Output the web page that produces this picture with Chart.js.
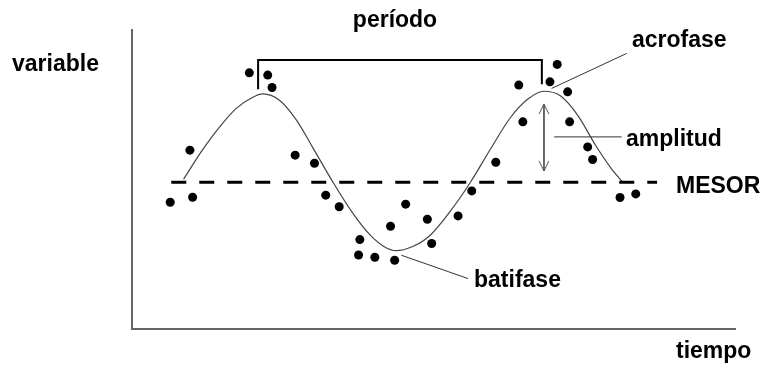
<!DOCTYPE html>
<html>
<head>
<meta charset="utf-8">
<script src="https://cdn.jsdelivr.net/npm/chart.js@4/dist/chart.umd.min.js"></script>
<style>
  html, body { margin: 0; padding: 0; background: #fff; }
  #wrap { width: 763px; height: 367px; }
</style>
</head>
<body>
<div id="wrap"><canvas id="cosinor"></canvas></div>
<script>
// observed points (tiempo in h, variable in arbitrary units)
const dotTimes = [-1.89, -0.21, 0.02, 4.86, 6.43, 6.80, 8.77, 10.42, 11.38, 12.53,
  14.29, 14.18, 15.57, 17.26, 16.91, 18.20, 20.05, 20.42, 22.67, 23.84, 25.89,
  27.85, 28.20, 30.51, 31.13, 32.02, 32.19, 33.73, 34.15, 36.49, 37.83];
const dotValues = [47.78, 53.56, 48.33, 62.14, 61.89, 60.52, 53.0, 52.11, 48.56, 47.28,
  43.63, 41.92, 41.67, 41.33, 45.11, 47.56, 45.89, 43.19, 46.26, 49.03, 52.22,
  60.78, 56.70, 61.14, 63.08, 60.03, 56.70, 53.92, 52.52, 48.30, 48.70];

// fitted curve
const curveTimes = [-0.75, 0.85, 2.3, 3.75, 5.12, 6.0, 7.43, 8.88, 10.25, 12.0, 13.67,
  15.12, 16.3, 17.4, 18.7, 20.2, 21.96, 23.73, 25.4, 27.1, 28.6, 30.0, 31.4, 32.9,
  34.4, 35.7, 36.7];
const curveValues = [50.33, 53.56, 56.1, 58.2, 59.4, 59.8, 59.1, 56.9, 53.9, 50.0, 46.6,
  44.2, 42.9, 42.4, 42.8, 44.0, 46.7, 50.0, 53.6, 57.1, 59.2, 60.1, 59.6, 57.4,
  54.1, 51.6, 50.03];

const mesor = 50;
const mesorTimes = [-1.8, 39.65];

const periodTimes = [5.61, 5.61, 29.82, 29.82];
const periodValues = [60.33, 63.56, 63.56, 60.89];

const amplitudeTimes = [30.0, 30.0];
const amplitudeValues = [58.67, 51.26];

const acrofaseLeader = { t: [30.65, 37.06], v: [60.41, 64.3] };
const amplitudLeader = { t: [30.87, 36.63], v: [55.03, 55.03] };
const batifaseLeader = { t: [17.83, 23.52], v: [41.89, 39.3] };

const xRange = [-5.15, 46.3];
const yRange = [33.7, 66.9];

const pts = (ts, vs) => ts.map((t, i) => ({ x: t, y: vs[i] }));

function lineSet(data, opts) {
  return Object.assign({
    data, showLine: true, pointRadius: 0, borderColor: '#333', borderWidth: 1,
    fill: false, tension: 0
  }, opts || {});
}

// arrow heads for the amplitude arrow (open V)
const headDx = 0.42, headDy = 1.1;
const topHead = [
  { x: amplitudeTimes[0] - headDx, y: amplitudeValues[0] - headDy },
  { x: amplitudeTimes[0], y: amplitudeValues[0] },
  { x: amplitudeTimes[0] + headDx, y: amplitudeValues[0] - headDy }
];
const botHead = [
  { x: amplitudeTimes[1] - headDx, y: amplitudeValues[1] + headDy },
  { x: amplitudeTimes[1], y: amplitudeValues[1] },
  { x: amplitudeTimes[1] + headDx, y: amplitudeValues[1] + headDy }
];

const labels = {
  id: 'labels',
  afterDraw(chart) {
    const ctx = chart.ctx;
    ctx.save();
    ctx.fillStyle = '#000';
    ctx.font = 'bold 23px "Liberation Sans", Arial, sans-serif';
    ctx.textBaseline = 'alphabetic';
    ctx.textAlign = 'center';
    ctx.fillText('período', 395, 27);
    ctx.textAlign = 'left';
    ctx.fillText('variable', 12, 71);
    ctx.fillText('acrofase', 632, 47);
    ctx.fillText('amplitud', 626, 146);
    ctx.fillText('MESOR', 676, 193);
    ctx.fillText('batifase', 474, 287);
    ctx.fillText('tiempo', 676, 358);
    ctx.restore();
  }
};

new Chart(document.getElementById('cosinor'), {
  type: 'scatter',
  data: {
    datasets: [
      lineSet(pts(mesorTimes, [mesor, mesor]), { borderColor: '#000', borderWidth: 3, borderDash: [15, 13] }),
      lineSet(pts(curveTimes, curveValues), { borderColor: '#444', borderWidth: 1.2, tension: 0.4, cubicInterpolationMode: 'monotone' }),
      lineSet(pts(periodTimes, periodValues), { borderColor: '#000', borderWidth: 2 }),
      lineSet(pts(amplitudeTimes, amplitudeValues), { borderColor: '#555', borderWidth: 1 }),
      lineSet(topHead, { borderColor: '#555', borderWidth: 1 }),
      lineSet(botHead, { borderColor: '#555', borderWidth: 1 }),
      lineSet(pts(acrofaseLeader.t, acrofaseLeader.v)),
      lineSet(pts(amplitudLeader.t, amplitudLeader.v)),
      lineSet(pts(batifaseLeader.t, batifaseLeader.v)),
      {
        data: pts(dotTimes, dotValues),
        pointRadius: 4.5, pointBackgroundColor: '#000', pointBorderWidth: 0, showLine: false
      }
    ]
  },
  options: {
    responsive: true,
    maintainAspectRatio: false,
    animation: false,
    layout: { padding: { left: 132, right: 28, top: 30, bottom: 38 } },
    plugins: { legend: { display: false }, tooltip: { enabled: false } },
    scales: {
      x: {
        type: 'linear', min: xRange[0], max: xRange[1],
        grid: { display: false, drawTicks: false },
        ticks: { display: false },
        border: { display: true, color: '#666', width: 2 }
      },
      y: {
        type: 'linear', min: yRange[0], max: yRange[1],
        grid: { display: false, drawTicks: false },
        ticks: { display: false },
        border: { display: true, color: '#666', width: 2 }
      }
    }
  },
  plugins: [labels]
});
</script>
</body>
</html>
